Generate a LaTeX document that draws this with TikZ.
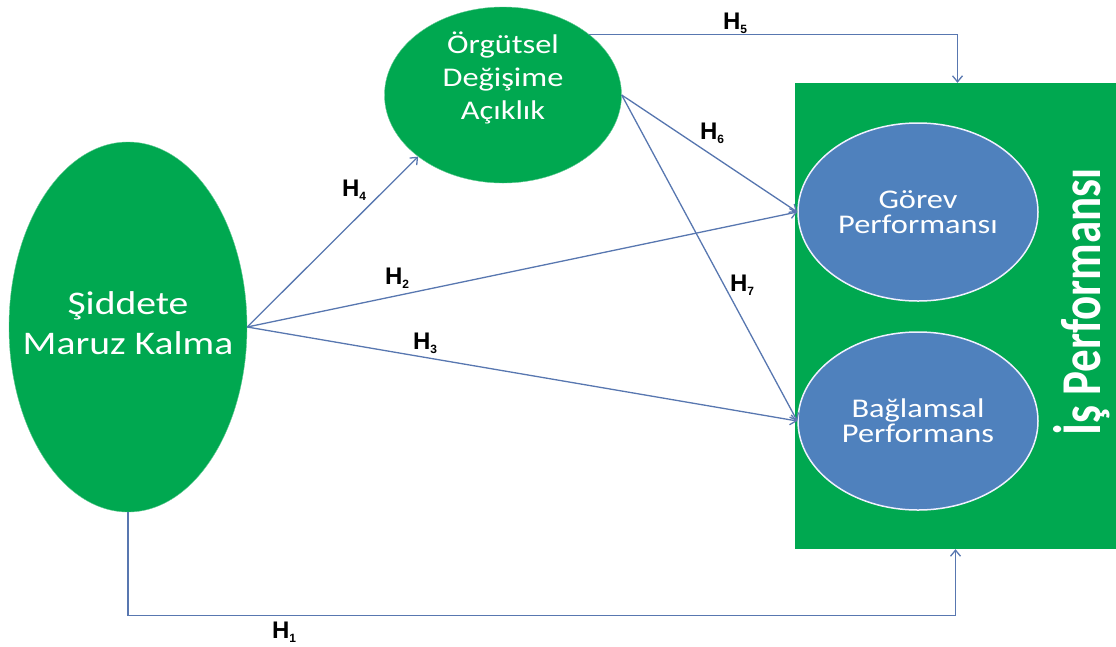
\documentclass[tikz,border=0pt]{standalone}
\usepackage{fontspec}
\setmainfont{Carlito}[FakeStretch=1.2]
\newfontfamily\vertfont{Carlito}
\newfontfamily\hypfont{Liberation Sans}
\usetikzlibrary{shapes.geometric,arrows.meta}
\definecolor{elgreen}{HTML}{00A850}
\definecolor{elblue}{HTML}{4F81BD}
\definecolor{arrblue}{HTML}{5877B0}
\newcommand{\hyp}[1]{H\raisebox{-0.3ex}{\fontsize{12}{12}\selectfont #1}}
\begin{document}
\begin{tikzpicture}[x=1pt,y=-1pt,
  gellipse/.style={ellipse, fill=elgreen, draw=elgreen!60!white, inner sep=0pt},
  intext/.style={align=center, text=white, inner sep=0pt},
  bellipse/.style={ellipse, fill=elblue, draw=blue!6!white, line width=1.5pt, inner sep=0pt, text=white, align=center, minimum width=240pt, minimum height=178pt, font=\fontsize{27}{25}\selectfont},
  link/.style={draw=arrblue, line width=1.3pt, -{Straight Barb[length=6pt,width=10pt]}},
  hlabel/.style={font=\hypfont\bfseries\fontsize{24}{24}\selectfont, inner sep=0pt}]
\useasboundingbox (0,0) rectangle (1116,646);
\node[fill=elgreen, inner sep=0pt, minimum width=321pt, minimum height=466pt] (ip) at (955.5,316){};
\node[rotate=90, anchor=base, text=white, inner sep=0pt] (iptext) at (1100,302){\scalebox{1}[1.25]{\vertfont\bfseries\fontsize{45}{45}\selectfont İş Performansı}};
\node[gellipse, minimum width=238pt, minimum height=370pt,
  label={[intext, yshift=4pt, font=\fontsize{33}{40}\selectfont]center:Şiddete\\Maruz Kalma}] (sid) at (128,327){};
\node[gellipse, minimum width=237pt, minimum height=176pt,
  label={[intext, yshift=17pt, font=\fontsize{27}{33}\selectfont]center:Örgütsel\\Değişime\\Açıklık}] (org) at (503,95){};
\node[bellipse] (gor) at (918,212){Görev\\Performansı};
\node[bellipse] (bag) at (918,421){Bağlamsal\\Performans};
% hypotheses
\draw[link] (sid.south) -- ++(0,103) -| (ip.south);
\draw[link] (sid.east) -- (gor.west);
\draw[link] (sid.east) -- (bag.west);
\draw[link] (sid.east) -- (org.216);
\draw[link] (org.35) -| ([xshift=2pt]ip.north);
\draw[link] (org.east) -- (gor.west);
\draw[link] (org.east) -- (bag.west);
\node[hlabel] (h1) at (284,632){\hyp{1}};
\node[hlabel] (h2) at (397,278){\hyp{2}};
\node[hlabel] (h3) at (425,343){\hyp{3}};
\node[hlabel] (h4) at (354,190){\hyp{4}};
\node[hlabel] (h5) at (735,23){\hyp{5}};
\node[hlabel] (h6) at (712,133){\hyp{6}};
\node[hlabel] (h7) at (742,285){\hyp{7}};
\end{tikzpicture}
\end{document}
